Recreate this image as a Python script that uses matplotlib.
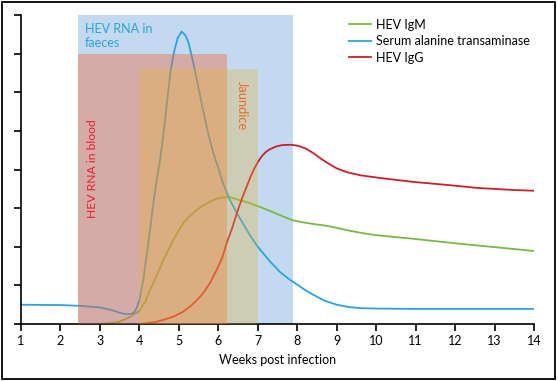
import numpy as np
import matplotlib.pyplot as plt
from matplotlib.patches import Rectangle

plt.rcParams['font.family'] = ['Lato', 'DejaVu Sans']

# serum alanine transaminase (blue)
alt_weeks = [1.0, 2.0, 2.5, 3.0, 3.3, 3.5, 3.7, 3.85, 3.93, 4.0, 4.1, 4.18, 4.27, 4.35, 4.44,
             4.53, 4.62, 4.70, 4.79, 4.88, 4.97, 5.07, 5.17, 5.24, 5.30, 5.38, 5.46, 5.58,
             5.74, 5.86, 5.99, 6.09, 6.2, 6.3, 6.47, 6.65, 6.8, 7.0, 7.3, 7.56, 7.82,
             8.0, 8.2, 8.4, 8.7, 9.0, 9.3, 9.6, 10.0, 11.0, 12.0, 13.0, 14.0]
alt_vals = [0.50, 0.49, 0.47, 0.43, 0.36, 0.29, 0.25, 0.28, 0.41, 0.62, 1.14, 1.75, 2.44, 3.10, 3.73,
            4.30, 5.00, 5.75, 6.55, 7.05, 7.40, 7.57, 7.47, 7.30, 7.05, 6.70, 6.30, 5.70,
            4.95, 4.47, 4.07, 3.73, 3.44, 3.20, 2.87, 2.56, 2.30, 2.00, 1.63, 1.35, 1.14,
            1.02, 0.88, 0.76, 0.60, 0.50, 0.44, 0.41, 0.40, 0.39, 0.39, 0.39, 0.39]

# HEV IgM (green)
igm_weeks = [3.0, 3.3, 3.5, 3.76, 4.0, 4.15, 4.27, 4.45, 4.61, 4.75, 4.86, 5.0, 5.11, 5.28,
             5.45, 5.62, 5.79, 5.95, 6.13, 6.3, 6.5, 6.8, 7.06, 7.3, 7.56, 7.7, 7.82, 7.95,
             8.1, 8.4, 8.7, 9.0, 9.3, 9.67, 10.0, 11.0, 12.0, 13.0, 14.0]
igm_vals = [0.0, 0.03, 0.06, 0.18, 0.34, 0.58, 0.88, 1.28, 1.66, 1.95, 2.18, 2.42, 2.61, 2.80,
            2.95, 3.07, 3.17, 3.24, 3.28, 3.28, 3.22, 3.13, 3.03, 2.93, 2.82, 2.76, 2.71, 2.67,
            2.64, 2.59, 2.55, 2.49, 2.42, 2.35, 2.30, 2.20, 2.09, 1.99, 1.89]

# HEV IgG (red)
igg_weeks = [4.0, 4.2, 4.44, 4.65, 4.86, 5.08, 5.28, 5.45, 5.62, 5.8, 5.96, 6.1, 6.21, 6.35,
             6.47, 6.6, 6.72, 6.82, 6.92, 7.0, 7.1, 7.2, 7.3, 7.45, 7.6, 7.82, 8.0, 8.2, 8.4,
             8.6, 8.83, 9.0, 9.26, 9.6, 10.1, 10.93, 11.8, 12.6, 13.47, 14.0]
igg_vals = [0.0, 0.02, 0.06, 0.12, 0.19, 0.30, 0.45, 0.61, 0.80, 1.08, 1.40, 1.72, 2.09, 2.48,
            2.87, 3.25, 3.56, 3.82, 4.04, 4.19, 4.34, 4.45, 4.52, 4.59, 4.63, 4.64, 4.62, 4.55,
            4.43, 4.28, 4.13, 4.03, 3.93, 3.85, 3.78, 3.68, 3.60, 3.52, 3.47, 3.45]

# shaded periods: (start week, end week, height)
faeces_span = (2.45, 7.9, 8.0)
blood_span = (2.45, 6.22, 6.98)
jaundice_span = (4.0, 7.0, 6.6)

fig = plt.figure(figsize=(5.58, 3.81), dpi=100)
ax = fig.add_axes([21 / 558, 57 / 381, 513 / 558, 309 / 381])

ax.add_patch(Rectangle((faeces_span[0], 0), faeces_span[1] - faeces_span[0], faeces_span[2],
                       facecolor='#c3d9f0', edgecolor='none', zorder=1))
ax.add_patch(Rectangle((blood_span[0], 0), blood_span[1] - blood_span[0], blood_span[2],
                       facecolor='#f2683a', alpha=0.4, edgecolor='none', zorder=3))
ax.add_patch(Rectangle((jaundice_span[0], 0), jaundice_span[1] - jaundice_span[0], jaundice_span[2],
                       facecolor='#e7b230', alpha=0.3, edgecolor='none', zorder=4))

ax.plot(igm_weeks, igm_vals, color='#78b843', lw=1.3, label='HEV IgM', zorder=2)
ax.plot(alt_weeks, alt_vals, color='#2aa3de', lw=1.3, label='Serum alanine transaminase', zorder=2)
ax.plot(igg_weeks, igg_vals, color='#cc1f2b', lw=1.3, label='HEV IgG', zorder=2)

ax.text(2.62, 7.54, 'HEV RNA in', color='#2aa3de', fontsize=9, va='baseline', ha='left', zorder=5)
ax.text(2.62, 7.18, 'faeces', color='#2aa3de', fontsize=9, va='baseline', ha='left', zorder=5)
ax.text(2.8, 4.03, 'HEV RNA in blood', color='#ee1c2c', fontsize=8.7, rotation=90,
        ha='center', va='center', zorder=5)
ax.text(6.6, 5.65, 'Jaundice', color='#ec6a2c', fontsize=9.3, rotation=-90,
        ha='center', va='center', zorder=5)

ax.legend(loc='upper left', bbox_to_anchor=(0.63, 1.004), frameon=False, fontsize=9,
          handlelength=1.75, handletextpad=0.4, labelspacing=0.35, borderaxespad=0)

ax.set_xlim(1, 14)
ax.set_ylim(0, 8)
ax.set_xticks(range(1, 15))
ax.set_yticks(range(0, 9))
ax.set_yticklabels([])
ax.tick_params(axis='both', length=5, width=1.2, labelsize=9, pad=3)
for side in ['top', 'right']:
    ax.spines[side].set_visible(False)
for side in ['left', 'bottom']:
    ax.spines[side].set_linewidth(1.2)
ax.set_xlabel('Weeks post infection', fontsize=9, labelpad=5)

fig.add_artist(Rectangle((0.004, 0.004), 0.99, 0.99, transform=fig.transFigure,
                         fill=False, edgecolor='black', lw=1.3))

fig.savefig('out.png', dpi=100)
